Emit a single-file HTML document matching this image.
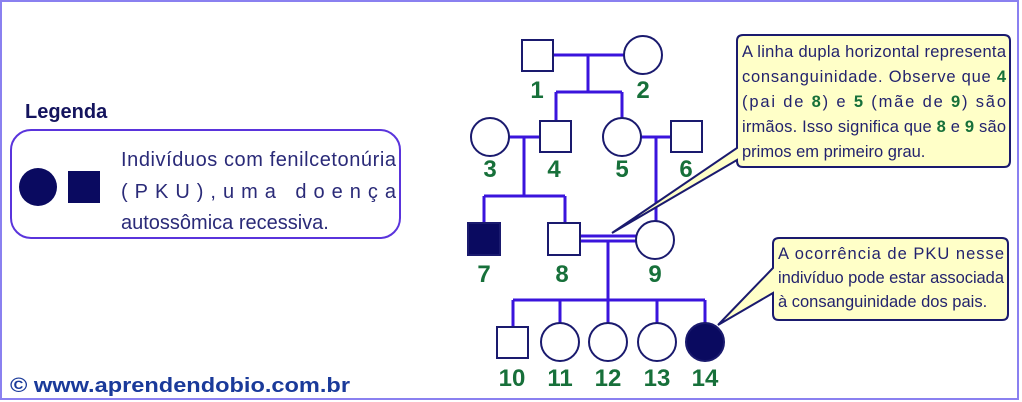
<!DOCTYPE html>
<html><head><meta charset="utf-8"><style>
html,body{margin:0;padding:0;background:#fff;}
svg{display:block;}
</style></head><body>
<svg width="1022" height="402" viewBox="0 0 1022 402" xmlns="http://www.w3.org/2000/svg" font-family="Liberation Sans, sans-serif">
<rect x="1" y="1" width="1017" height="398" fill="#fff" stroke="#8a80f0" stroke-width="2"/>
<g stroke="#3a14dc" stroke-width="3" fill="none">
<path d="M553 55H624M588 55V92M556 92H622M556 92V121M622 92V118"/>
<path d="M509 137H540M524 137V196M484 196H565M484 196V223M565 196V223"/>
<path d="M641 137H671M656 137V221"/>
<path d="M580 236H637M580 241H637M608 241V323M513 300H705M513 300V327M560 300V323M657 300V323M705 300V323"/>
</g>
<g stroke="#1a1a6e" stroke-width="2" fill="#fff">
<rect x="522" y="40" width="31" height="31"/>
<circle cx="643" cy="55" r="19"/>
<circle cx="490" cy="137" r="19"/>
<rect x="540" y="121" width="31" height="31"/>
<circle cx="622" cy="137" r="19"/>
<rect x="671" y="121" width="31" height="31"/>
<rect x="468" y="223" width="32" height="32" fill="#0a0a60"/>
<rect x="548" y="223" width="32" height="32"/>
<circle cx="655" cy="240" r="19"/>
<rect x="497" y="327" width="31" height="31"/>
<circle cx="560" cy="342" r="19"/>
<circle cx="608" cy="342" r="19"/>
<circle cx="657" cy="342" r="19"/>
<circle cx="705" cy="342" r="19" fill="#0a0a60"/>
</g>
<g fill="#17703a" font-weight="bold" font-size="24" text-anchor="middle">
<text x="537" y="98">1</text><text x="643" y="98">2</text>
<text x="490" y="177">3</text><text x="554" y="177">4</text><text x="622" y="177">5</text><text x="686" y="177">6</text>
<text x="484" y="282">7</text><text x="562" y="282">8</text><text x="655" y="282">9</text>
<text x="512" y="386">10</text><text x="560" y="386">11</text><text x="608" y="386">12</text><text x="657" y="386">13</text><text x="705" y="386">14</text>
</g>
<path d="M743 35H1004Q1010 35 1010 41V161Q1010 167 1004 167H743Q737 167 737 161V160L612 233L737 148V41Q737 35 743 35Z" fill="#ffffc8" stroke="#1a1a6e" stroke-width="2"/>
<g fill="#23236e" font-size="16.5">
<text x="742" y="57" textLength="264" lengthAdjust="spacing">A linha dupla horizontal representa</text>
<text x="742" y="82" textLength="264" lengthAdjust="spacing">consanguinidade. Observe que <tspan fill="#17703a" font-weight="bold">4</tspan></text>
<text x="742" y="107" textLength="264" lengthAdjust="spacing">(pai de <tspan fill="#17703a" font-weight="bold">8</tspan>) e <tspan fill="#17703a" font-weight="bold">5</tspan> (mãe de <tspan fill="#17703a" font-weight="bold">9</tspan>) são</text>
<text x="742" y="132" textLength="264" lengthAdjust="spacing">irmãos. Isso significa que <tspan fill="#17703a" font-weight="bold">8</tspan> e <tspan fill="#17703a" font-weight="bold">9</tspan> são</text>
<text x="742" y="157">primos em primeiro grau.</text>
</g>
<path d="M779 238H1002Q1008 238 1008 244V314Q1008 320 1002 320H779Q773 320 773 314V293L718 325L773 268V244Q773 238 779 238Z" fill="#ffffc8" stroke="#1a1a6e" stroke-width="2"/>
<g fill="#23236e" font-size="16.5">
<text x="778" y="259" textLength="226" lengthAdjust="spacing">A ocorrência de PKU nesse</text>
<text x="778" y="283" textLength="226" lengthAdjust="spacing">indivíduo pode estar associada</text>
<text x="778" y="307">à consanguinidade dos pais.</text>
</g>
<text x="25" y="118" font-size="20" font-weight="bold" fill="#14145e">Legenda</text>
<rect x="11" y="130" width="389" height="108" rx="20" fill="#fff" stroke="#5a34dc" stroke-width="2"/>
<circle cx="38" cy="187" r="19" fill="#0a0a60"/>
<rect x="68" y="171" width="32" height="32" fill="#0a0a60"/>
<g fill="#2a2a78" font-size="20">
<text x="121" y="166" textLength="275" lengthAdjust="spacing">Indivíduos com fenilcetonúria</text>
<text x="121" y="198" textLength="275" lengthAdjust="spacing">(PKU),uma doença</text>
<text x="121" y="229">autossômica recessiva.</text>
</g>
<text x="10" y="392" font-size="20" font-weight="bold" fill="#1a3a9a" textLength="340" lengthAdjust="spacingAndGlyphs">© www.aprendendobio.com.br</text>
</svg>
</body></html>
